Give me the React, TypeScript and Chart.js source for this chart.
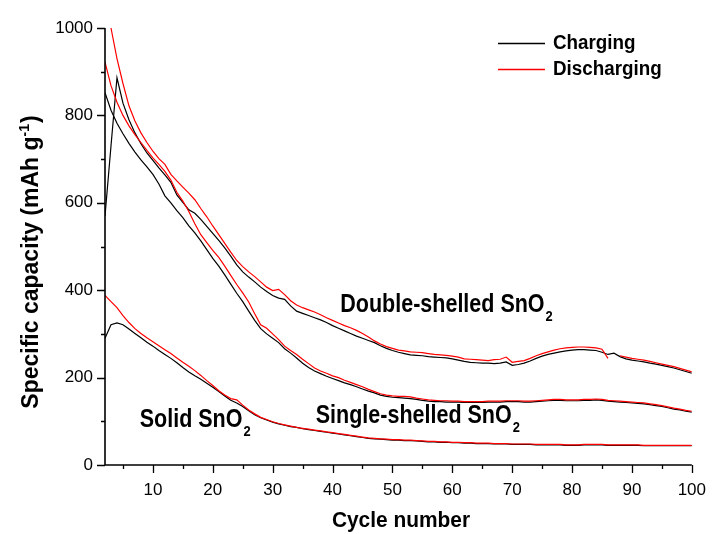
import React, { useEffect, useRef } from 'react';
import { Chart, registerables } from 'chart.js';

Chart.register(...registerables);

const FONT = "'Liberation Sans', Arial, sans-serif";

const cycles = [
  2, 3, 4, 5, 6, 7, 8, 9, 10, 11, 12, 13, 14, 15, 16, 17, 18, 19, 20, 21,
  22, 23, 24, 25, 26, 27, 28, 29, 30, 31, 32, 33, 34, 35, 36, 37, 38, 39, 40, 41,
  42, 43, 44, 45, 46, 47, 48, 49, 50, 51, 52, 53, 54, 55, 56, 57, 58, 59, 60, 61,
  62, 63, 64, 65, 66, 67, 68, 69, 70, 71, 72, 73, 74, 75, 76, 77, 78, 79, 80, 81,
  82, 83, 84, 85, 86, 87, 88, 89, 90, 91, 92, 93, 94, 95, 96, 97, 98, 99, 100,
];

// Double-shelled SnO2
const doubleCharge = [
  570, 730, 886, 828, 790, 760, 735, 714, 697, 680, 664, 647, 618, 601, 584, 576, 562, 546, 530, 514,
  497, 478, 458, 442, 430, 419, 407, 397, 388, 382, 379, 364, 352, 347, 342, 337, 332, 326, 319, 313,
  307, 301, 295, 290, 285, 280, 273, 267, 262, 258, 255, 252, 251, 250, 248, 247, 246, 245, 243, 240,
  237, 235, 234, 233, 233, 232, 233, 236, 228, 230, 233, 238, 244, 249, 253, 256, 259, 261, 263, 264,
  264, 263, 262, 258, 253, 256, 248, 243, 240, 238, 236, 233, 231, 228, 225, 222, 218, 214, 210,
];
const doubleDischarge = [
  null, 1000, 930, 873, 822, 787, 760, 738, 718, 701, 688, 665, 650, 636, 622, 607, 587, 568, 547, 527,
  507, 487, 468, 454, 442, 431, 419, 407, 399, 402, 390, 376, 366, 360, 355, 350, 344, 337, 331, 325,
  319, 314, 308, 301, 293, 284, 277, 271, 267, 263, 261, 259, 258, 257, 255, 253, 252, 251, 249, 247,
  243, 242, 241, 240, 239, 241, 242, 247, 235, 237, 239, 244, 250, 255, 259, 263, 266, 268, 269, 270,
  270, 269, 268, 265, 244, null, 250, 247, 244, 242, 240, 237, 234, 231, 228, 225, 221, 217, 213,
];

// Single-shelled SnO2
const singleCharge = [
  852, 812, 782, 758, 736, 716, 698, 682, 665, 643, 616, 600, 582, 566, 547, 531, 513, 493, 473, 455,
  435, 414, 393, 374, 352, 331, 312, 300, 290, 280, 266, 256, 245, 233, 223, 215, 209, 203, 198, 193,
  188, 184, 179, 174, 169, 165, 160, 157, 155, 154, 153, 152, 150, 148, 146, 145, 145, 144, 144, 144,
  143, 143, 143, 143, 144, 144, 144, 145, 145, 145, 144, 144, 145, 146, 147, 148, 148, 147, 147, 147,
  148, 148, 149, 148, 146, 145, 144, 143, 142, 141, 140, 138, 136, 134, 131, 128, 126, 123, 121,
];
const singleDischarge = [
  922, 868, 830, 800, 776, 756, 738, 720, 703, 688, 672, 652, 624, 604, 580, 552, 527, 509, 491, 475,
  455, 434, 413, 394, 373, 346, 321, 313, 300, 287, 272, 262, 253, 242, 232, 222, 215, 210, 204, 200,
  194, 189, 184, 179, 173, 168, 163, 160, 158, 157, 157, 156, 153, 151, 149, 148, 147, 147, 146, 146,
  145, 145, 145, 145, 146, 146, 146, 147, 147, 147, 146, 146, 147, 148, 149, 150, 150, 149, 149, 149,
  150, 150, 151, 150, 148, 147, 146, 145, 144, 143, 142, 140, 138, 136, 133, 130, 128, 125, 123,
];

// Solid SnO2
const solidCharge = [
  290, 321, 325, 321, 311, 301, 291, 281, 272, 262, 253, 244, 234, 223, 213, 204, 196, 187, 178, 168,
  158, 148, 142, 134, 124, 115, 108, 103, 98, 94, 91, 88, 86, 83, 81, 79, 77, 75, 73, 71,
  69, 67, 65, 63, 61, 60, 59, 58, 57, 57, 56, 56, 55, 54, 53, 53, 52, 52, 51, 51,
  50, 50, 49, 49, 49, 48, 48, 48, 47, 47, 47, 47, 46, 46, 46, 46, 46, 45, 45, 45,
  46, 46, 46, 46, 45, 45, 45, 45, 45, 45, 44, 44, 44, 44, 44, 44, 44, 44, 44,
];
const solidDischarge = [
  388, 374, 360, 342, 326, 312, 301, 291, 282, 273, 264, 255, 245, 235, 226, 216, 205, 193, 182, 170,
  160, 152, 149, 137, 126, 117, 109, 104, 99, 95, 92, 89, 86, 84, 82, 80, 78, 76, 74, 72,
  70, 68, 66, 64, 62, 61, 60, 59, 58, 58, 57, 57, 56, 55, 54, 54, 53, 53, 52, 52,
  51, 51, 50, 50, 50, 49, 49, 49, 48, 48, 48, 48, 47, 47, 47, 47, 47, 46, 46, 46,
  47, 47, 47, 47, 46, 46, 46, 46, 46, 46, 45, 45, 45, 45, 45, 45, 45, 45, 45,
];

const xMajorTicks = [10, 20, 30, 40, 50, 60, 70, 80, 90, 100];
const xMinorTicks = [5, 15, 25, 35, 45, 55, 65, 75, 85, 95];
const yMajorTicks = [0, 200, 400, 600, 800, 1000];
const yMinorTicks = [100, 300, 500, 700, 900];

const legendLabels = ['Charging', 'Discharging'];
const sampleLabels = [
  { text: 'Double-shelled SnO', sub: '2', x: 41.3, y: 351 },
  { text: 'Single-shelled SnO', sub: '2', x: 37.2, y: 95 },
  { text: 'Solid SnO', sub: '2', x: 7.8, y: 88 },
];

const CHARGE_COLOR = '#000000';
const DISCHARGE_COLOR = '#ff0000';

function toPoints(values: (number | null)[]) {
  return cycles.map((c, i) => ({ x: c, y: values[i] }));
}

function drawScaled(ctx: CanvasRenderingContext2D, text: string, x: number, y: number, font: string, sx: number) {
  ctx.save();
  ctx.font = font;
  ctx.translate(x, y);
  ctx.scale(sx, 1);
  ctx.textAlign = 'left';
  ctx.textBaseline = 'alphabetic';
  ctx.fillText(text, 0, 0);
  const w = ctx.measureText(text).width * sx;
  ctx.restore();
  return w;
}

const overlayPlugin = {
  id: 'overlay',
  afterDraw(chart: any) {
    const ctx: CanvasRenderingContext2D = chart.ctx;
    const xs = chart.scales.x;
    const ys = chart.scales.y;
    const { left, right, top, bottom } = chart.chartArea;
    ctx.save();
    ctx.strokeStyle = '#000';
    ctx.fillStyle = '#000';
    // axis lines
    ctx.lineWidth = 1.6;
    ctx.beginPath();
    ctx.moveTo(left, top);
    ctx.lineTo(left, bottom);
    ctx.lineTo(right, bottom);
    ctx.stroke();
    // ticks
    ctx.lineWidth = 1.3;
    ctx.beginPath();
    xMajorTicks.forEach((v) => {
      const p = Math.round(xs.getPixelForValue(v)) + 0.5;
      ctx.moveTo(p, bottom);
      ctx.lineTo(p, bottom + 8);
    });
    xMinorTicks.forEach((v) => {
      const p = Math.round(xs.getPixelForValue(v)) + 0.5;
      ctx.moveTo(p, bottom);
      ctx.lineTo(p, bottom + 4);
    });
    yMajorTicks.forEach((v) => {
      const p = Math.round(ys.getPixelForValue(v)) + 0.5;
      ctx.moveTo(left, p);
      ctx.lineTo(left - 8, p);
    });
    yMinorTicks.forEach((v) => {
      const p = Math.round(ys.getPixelForValue(v)) + 0.5;
      ctx.moveTo(left, p);
      ctx.lineTo(left - 4, p);
    });
    ctx.stroke();

    // sample labels
    sampleLabels.forEach((s) => {
      const px = xs.getPixelForValue(s.x);
      const py = ys.getPixelForValue(s.y);
      const w = drawScaled(ctx, s.text, px, py, `bold 25px ${FONT}`, 0.86);
      drawScaled(ctx, s.sub, px + w + 1, py + 9, `bold 15px ${FONT}`, 0.86);
    });

    // legend
    const legY = [43, 69];
    const legColors = [CHARGE_COLOR, DISCHARGE_COLOR];
    legendLabels.forEach((t, i) => {
      ctx.strokeStyle = legColors[i];
      ctx.lineWidth = 1.3;
      ctx.beginPath();
      ctx.moveTo(498, legY[i] + 0.5);
      ctx.lineTo(545, legY[i] + 0.5);
      ctx.stroke();
      ctx.fillStyle = '#000';
      drawScaled(ctx, t, 553, legY[i] + 6, `bold 20px ${FONT}`, 0.94);
    });

    // x title
    ctx.fillStyle = '#000';
    ctx.save();
    ctx.font = `bold 22px ${FONT}`;
    const xt = 'Cycle number';
    const xw = ctx.measureText(xt).width * 0.95;
    ctx.restore();
    drawScaled(ctx, xt, 401 - xw / 2, 527, `bold 22px ${FONT}`, 0.95);

    // y title
    ctx.save();
    ctx.translate(38, 262);
    ctx.rotate(-Math.PI / 2);
    const mainFont = `bold 23px ${FONT}`;
    const supFont = `bold 14px ${FONT}`;
    const p1 = 'Specific capacity (mAh g';
    const p2 = '-1';
    const p3 = ')';
    ctx.font = mainFont;
    const w1 = ctx.measureText(p1).width;
    const w3 = ctx.measureText(p3).width;
    ctx.font = supFont;
    const w2 = ctx.measureText(p2).width;
    const total = w1 + w2 + w3 + 1;
    let cx = -total / 2;
    ctx.textBaseline = 'alphabetic';
    ctx.font = mainFont;
    ctx.fillText(p1, cx, 0);
    cx += w1;
    ctx.font = supFont;
    ctx.fillText(p2, cx, -9);
    cx += w2 + 1;
    ctx.font = mainFont;
    ctx.fillText(p3, cx, 0);
    ctx.restore();

    ctx.restore();
  },
};

export default function App() {
  const canvasRef = useRef<HTMLCanvasElement | null>(null);

  useEffect(() => {
    const canvas = canvasRef.current;
    if (!canvas) return;
    const lw = 1.2;
    const chart = new Chart(canvas, {
      type: 'line',
      data: {
        datasets: [
          { label: 'Double discharge', data: toPoints(doubleDischarge), borderColor: DISCHARGE_COLOR },
          { label: 'Single discharge', data: toPoints(singleDischarge), borderColor: DISCHARGE_COLOR },
          { label: 'Solid discharge', data: toPoints(solidDischarge), borderColor: DISCHARGE_COLOR },
          { label: 'Double charge', data: toPoints(doubleCharge), borderColor: CHARGE_COLOR },
          { label: 'Single charge', data: toPoints(singleCharge), borderColor: CHARGE_COLOR },
          { label: 'Solid charge', data: toPoints(solidCharge), borderColor: CHARGE_COLOR },
        ].map((d) => ({
          ...d,
          borderWidth: lw,
          pointRadius: 0,
          pointHoverRadius: 0,
          fill: false,
          tension: 0,
          spanGaps: false,
        })),
      },
      options: {
        animation: false,
        responsive: false,
        events: [],
        layout: { padding: { left: 0, right: 16, top: 28, bottom: 0 } },
        plugins: {
          legend: { display: false },
          tooltip: { enabled: false },
          title: { display: false },
        },
        scales: {
          x: {
            type: 'linear',
            min: 2,
            max: 100,
            afterBuildTicks: (scale: any) => {
              scale.ticks = xMajorTicks.map((v) => ({ value: v }));
            },
            afterFit: (scale: any) => {
              scale.height = 69;
            },
            ticks: {
              autoSkip: false,
              maxRotation: 0,
              padding: 7,
              color: '#000',
              font: { family: FONT, size: 17 },
              callback: (v: any) => String(v),
            },
            grid: { display: true, drawOnChartArea: false, drawTicks: true, tickLength: 8, color: 'rgba(0,0,0,0)' },
            border: { display: false },
          },
          y: {
            type: 'linear',
            min: 0,
            max: 1000,
            afterBuildTicks: (scale: any) => {
              scale.ticks = yMajorTicks.map((v) => ({ value: v }));
            },
            afterFit: (scale: any) => {
              scale.width = 105;
            },
            ticks: {
              autoSkip: false,
              padding: 4,
              color: '#000',
              font: { family: FONT, size: 17 },
              callback: (v: any) => String(v),
            },
            grid: { display: true, drawOnChartArea: false, drawTicks: true, tickLength: 8, color: 'rgba(0,0,0,0)' },
            border: { display: false },
          },
        },
      },
      plugins: [overlayPlugin],
    });
    return () => chart.destroy();
  }, []);

  return (
    <div style={{ position: 'fixed', left: 0, top: 0, width: 713, height: 534, background: '#fff' }}>
      <canvas ref={canvasRef} width={713} height={534} style={{ width: 713, height: 534, display: 'block' }} />
    </div>
  );
}
